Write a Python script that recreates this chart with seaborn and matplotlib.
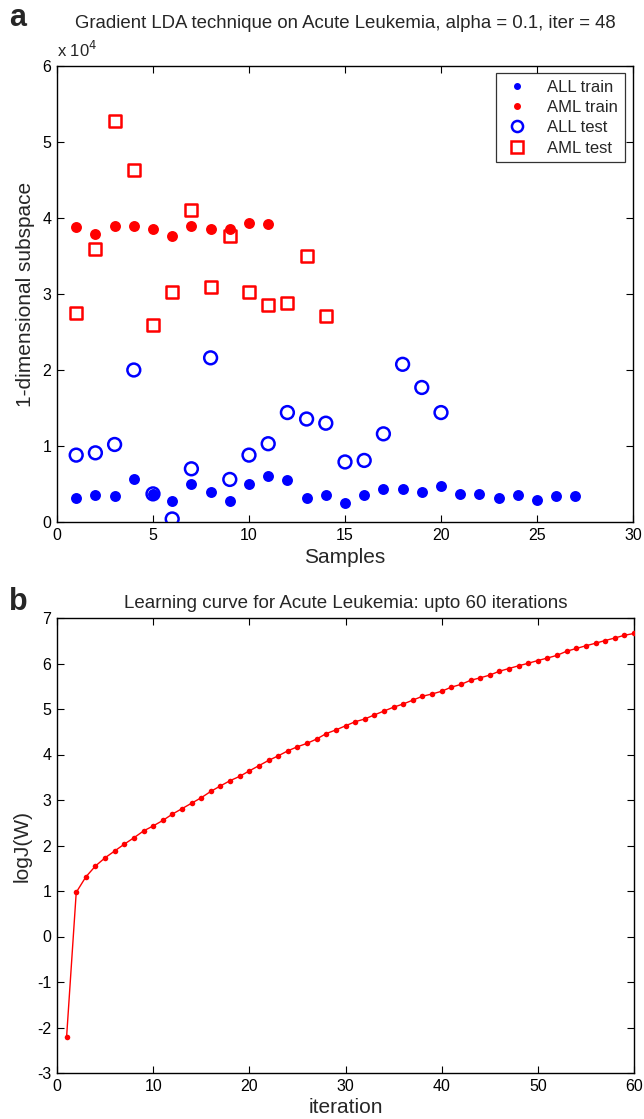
import matplotlib
matplotlib.use("Agg")
import matplotlib.pyplot as plt
from matplotlib.lines import Line2D
from matplotlib.ticker import FuncFormatter
import numpy as np
import pandas as pd
import seaborn as sns

# ---- Panel a: projections onto the 1-D discriminant subspace ----
all_train_x = list(range(1, 28))
all_train_y = [3200, 3560, 3430, 5710, 3650, 2730, 4970, 3900, 2730, 4970,
               6000, 5500, 3200, 3600, 2500, 3600, 4300, 4400, 3900, 4800,
               3700, 3700, 3200, 3560, 2860, 3430, 3430]

aml_train_x = list(range(1, 12))
aml_train_y = [38800, 37900, 39000, 39000, 38500, 37600, 39000, 38500,
               38600, 39300, 39200]

all_test_x = list(range(1, 21))
all_test_y = [8800, 9100, 10200, 20000, 3700, 400, 7000, 21600, 5600, 8800,
              10300, 14400, 13550, 13000, 7900, 8100, 11600, 20750, 17700, 14400]

aml_test_x = list(range(1, 15))
aml_test_y = [27450, 35900, 52700, 46300, 25900, 30200, 41100, 30900,
              37600, 30200, 28550, 28850, 35000, 27100]

# ---- Panel b: learning curve ----
iterations = list(range(1, 61))
log_j = [-2.2, 0.97, 1.31, 1.55, 1.73, 1.88, 2.03, 2.17, 2.32, 2.43,
         2.55, 2.69, 2.81, 2.93, 3.05, 3.19, 3.31, 3.425, 3.52, 3.64,
         3.755, 3.87, 3.97, 4.08, 4.17, 4.245, 4.34, 4.46, 4.54, 4.63,
         4.72, 4.78, 4.87, 4.955, 5.04, 5.11, 5.195, 5.28, 5.33, 5.39,
         5.48, 5.54, 5.63, 5.685, 5.745, 5.83, 5.89, 5.95, 6.005, 6.065,
         6.12, 6.18, 6.27, 6.33, 6.39, 6.445, 6.505, 6.56, 6.62, 6.66]

sns.set_theme(style="white")
plt.rcParams["font.family"] = ["Liberation Sans", "DejaVu Sans"]
plt.rcParams["axes.edgecolor"] = "black"
plt.rcParams["axes.linewidth"] = 1.0
plt.rcParams["axes.unicode_minus"] = False

BLUE = (0, 0, 1)
RED = (1, 0, 0)

fig = plt.figure(figsize=(6.44, 11.19), dpi=100)
ax1 = fig.add_axes([57 / 644, 1 - 522 / 1119, (633 - 57) / 644, (522 - 66) / 1119])
ax2 = fig.add_axes([57 / 644, 1 - 1073 / 1119, (634 - 57) / 644, (1073 - 618) / 1119])


def matlab_box(ax):
    ax.tick_params(direction="in", length=5, width=0.8, top=True, right=True,
                   bottom=True, left=True, labelsize=11.5, colors="black",
                   pad=4)
    for s in ax.spines.values():
        s.set_visible(True)
        s.set_color("black")
        s.set_linewidth(1.0)


# Panel a
df_all_tr = pd.DataFrame({"x": all_train_x, "y": all_train_y})
df_aml_tr = pd.DataFrame({"x": aml_train_x, "y": aml_train_y})
df_all_te = pd.DataFrame({"x": all_test_x, "y": all_test_y})
df_aml_te = pd.DataFrame({"x": aml_test_x, "y": aml_test_y})

sns.scatterplot(data=df_all_tr, x="x", y="y", ax=ax1, color=BLUE, marker="o",
                s=62, linewidth=0, zorder=3)
sns.scatterplot(data=df_aml_tr, x="x", y="y", ax=ax1, color=RED, marker="o",
                s=62, linewidth=0, zorder=3)
sns.scatterplot(data=df_all_te, x="x", y="y", ax=ax1, marker="o", s=85,
                facecolor="none", edgecolor=BLUE, linewidth=1.8, zorder=4)
sns.scatterplot(data=df_aml_te, x="x", y="y", ax=ax1, marker="s", s=75,
                facecolor="none", edgecolor=RED, linewidth=1.8, zorder=4)

ax1.set_xlim(0, 30)
ax1.set_ylim(0, 60000)
ax1.set_xticks(range(0, 31, 5))
ax1.set_yticks(range(0, 60001, 10000))
ax1.yaxis.set_major_formatter(FuncFormatter(lambda v, p: f"{v / 1e4:g}"))
matlab_box(ax1)
ax1.set_xlabel("Samples", fontsize=15, labelpad=4)
ax1.set_ylabel("1-dimensional subspace", fontsize=15, labelpad=5)
ax1.set_title("Gradient LDA technique on Acute Leukemia, alpha = 0.1, iter = 48",
              fontsize=13.4, pad=27)
ax1.text(0.0, 1.014, "x 10$^4$", transform=ax1.transAxes, fontsize=12,
         ha="left", va="bottom")

handles = [
    Line2D([], [], linestyle="none", marker="o", markersize=4,
           markerfacecolor=BLUE, markeredgecolor=BLUE),
    Line2D([], [], linestyle="none", marker="o", markersize=4,
           markerfacecolor=RED, markeredgecolor=RED),
    Line2D([], [], linestyle="none", marker="o", markersize=8,
           markerfacecolor="none", markeredgecolor=BLUE, markeredgewidth=1.8),
    Line2D([], [], linestyle="none", marker="s", markersize=8,
           markerfacecolor="none", markeredgecolor=RED, markeredgewidth=1.8),
]
leg = ax1.legend(handles, ["ALL train", "AML train", "ALL test", "AML test"],
                 loc="upper right", bbox_to_anchor=(0.986, 0.985), fontsize=12,
                 frameon=True, fancybox=False, edgecolor="black",
                 handletextpad=0.9, borderpad=0.4, labelspacing=0.32,
                 handlelength=1.8, borderaxespad=0.0)
leg.get_frame().set_linewidth(0.9)

# Panel b
df_curve = pd.DataFrame({"iteration": iterations, "logJ": log_j})
sns.lineplot(data=df_curve, x="iteration", y="logJ", ax=ax2, color=RED,
             linewidth=1.0, marker="o", markersize=4, markeredgewidth=0,
             zorder=3)
ax2.set_xlim(0, 60)
ax2.set_ylim(-3, 7)
ax2.set_xticks(range(0, 61, 10))
ax2.set_yticks(range(-3, 8))
matlab_box(ax2)
ax2.set_xlabel("iteration", fontsize=15, labelpad=3)
ax2.set_ylabel("logJ(W)", fontsize=15, labelpad=4)
ax2.set_title("Learning curve for Acute Leukemia: upto 60 iterations",
              fontsize=13.5, pad=7)

fig.text(0.014, 0.984, "a", fontsize=22, fontweight="bold", ha="left", va="center")
fig.text(0.014, 0.462, "b", fontsize=22, fontweight="bold", ha="left", va="center")

fig.savefig("out.png", dpi=100, facecolor="white")
